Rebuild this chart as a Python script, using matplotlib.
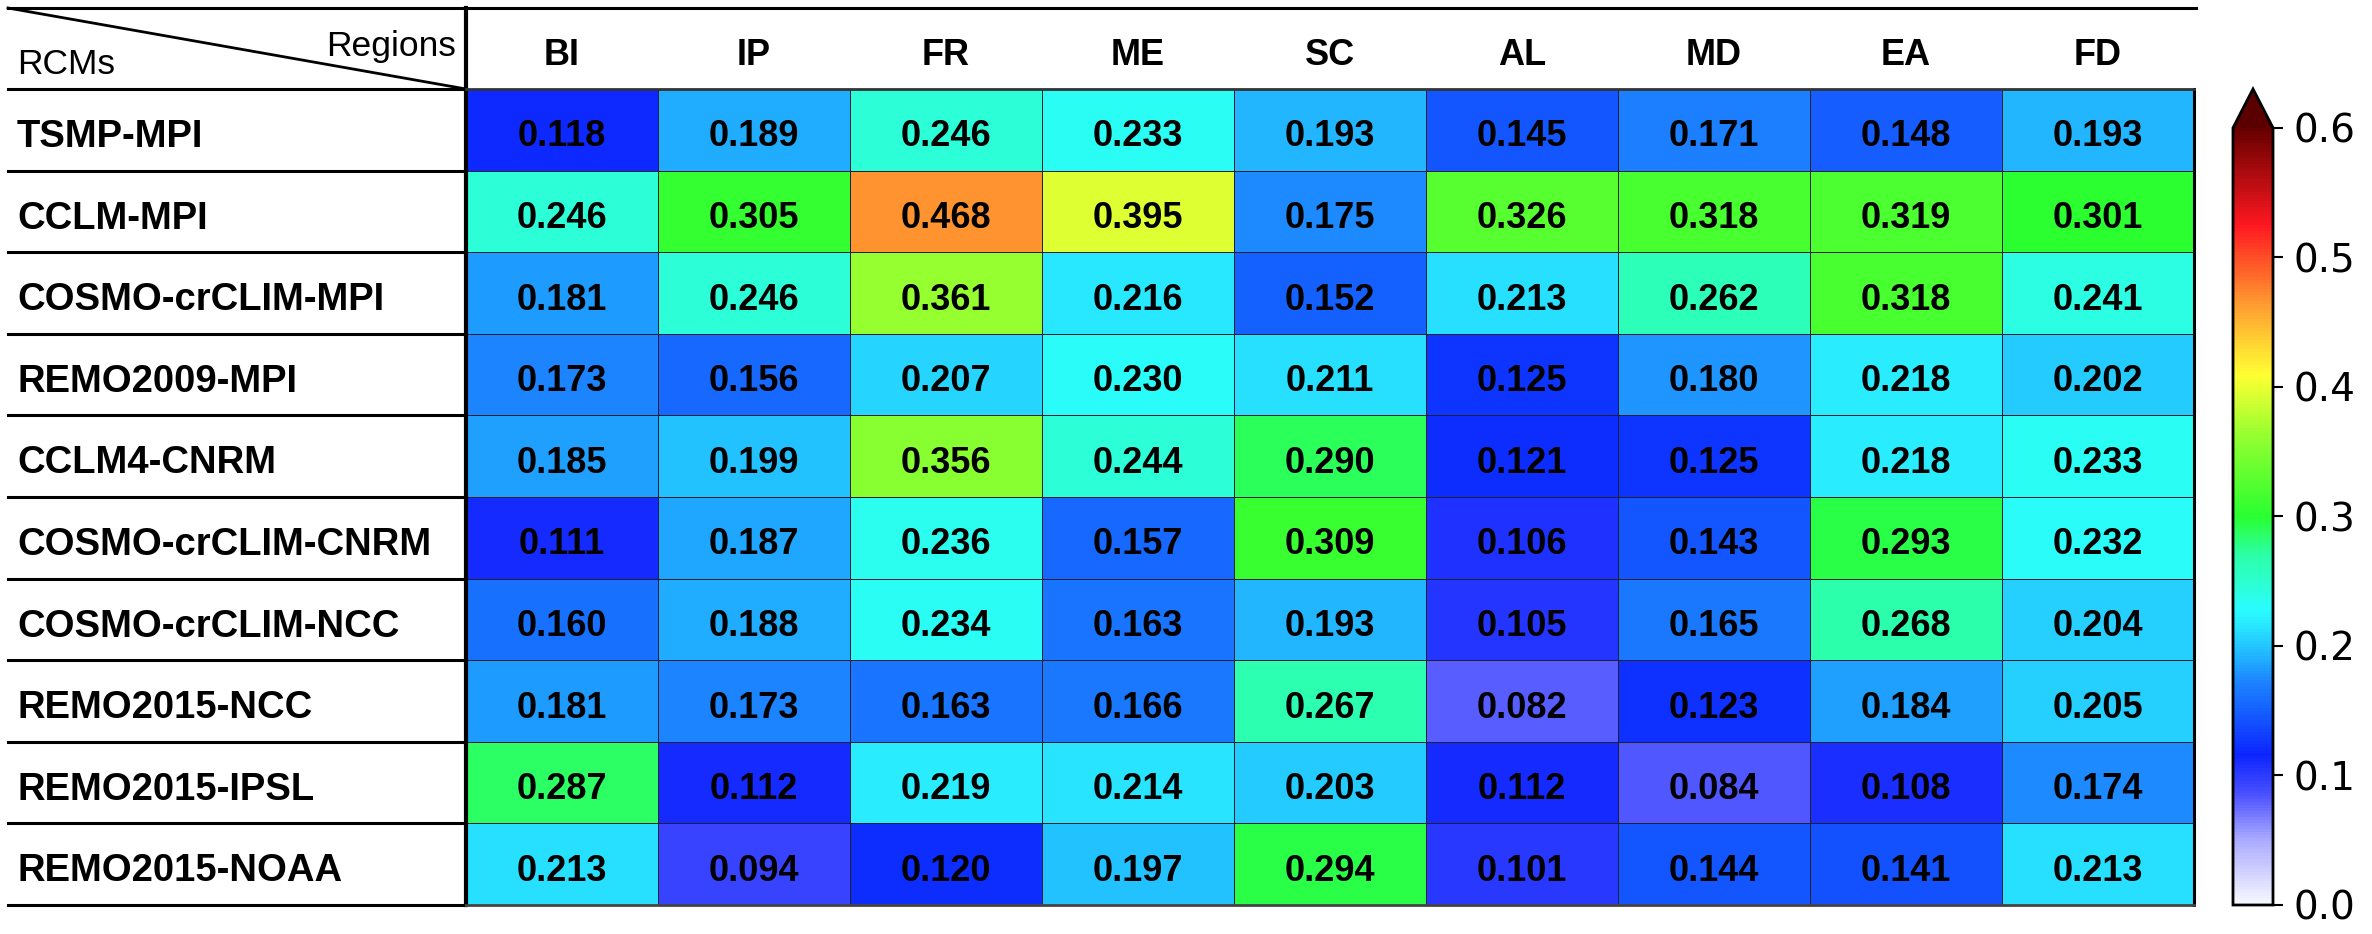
import numpy as np
import matplotlib
matplotlib.use("Agg")
import matplotlib.pyplot as plt
from matplotlib import transforms
from matplotlib.colors import LinearSegmentedColormap

# --- Data ---
rcms = ["TSMP-MPI", "CCLM-MPI", "COSMO-crCLIM-MPI", "REMO2009-MPI", "CCLM4-CNRM",
        "COSMO-crCLIM-CNRM", "COSMO-crCLIM-NCC", "REMO2015-NCC", "REMO2015-IPSL",
        "REMO2015-NOAA"]
regions = ["BI", "IP", "FR", "ME", "SC", "AL", "MD", "EA", "FD"]

tsmp_mpi = [0.118, 0.189, 0.246, 0.233, 0.193, 0.145, 0.171, 0.148, 0.193]
cclm_mpi = [0.246, 0.305, 0.468, 0.395, 0.175, 0.326, 0.318, 0.319, 0.301]
cosmo_mpi = [0.181, 0.246, 0.361, 0.216, 0.152, 0.213, 0.262, 0.318, 0.241]
remo09_mpi = [0.173, 0.156, 0.207, 0.230, 0.211, 0.125, 0.180, 0.218, 0.202]
cclm4_cnrm = [0.185, 0.199, 0.356, 0.244, 0.290, 0.121, 0.125, 0.218, 0.233]
cosmo_cnrm = [0.111, 0.187, 0.236, 0.157, 0.309, 0.106, 0.143, 0.293, 0.232]
cosmo_ncc = [0.160, 0.188, 0.234, 0.163, 0.193, 0.105, 0.165, 0.268, 0.204]
remo15_ncc = [0.181, 0.173, 0.163, 0.166, 0.267, 0.082, 0.123, 0.184, 0.205]
remo15_ipsl = [0.287, 0.112, 0.219, 0.214, 0.203, 0.112, 0.084, 0.108, 0.174]
remo15_noaa = [0.213, 0.094, 0.120, 0.197, 0.294, 0.101, 0.144, 0.141, 0.213]

values = np.array([tsmp_mpi, cclm_mpi, cosmo_mpi, remo09_mpi, cclm4_cnrm,
                   cosmo_cnrm, cosmo_ncc, remo15_ncc, remo15_ipsl, remo15_noaa])
nrows, ncols = values.shape

# --- Colormap (white-blue-green-yellow-red) ---
vmax = 0.6
anchors = [(0.0, "#f8f8ff"), (0.05, "#a8a8ff"), (0.085, "#4a50ff"),
           (0.115, "#0c24ff"), (0.15, "#1560ff"), (0.17, "#1c80ff"),
           (0.19, "#20b0ff"), (0.215, "#28e6ff"), (0.228, "#2afcff"),
           (0.25, "#2cffcc"), (0.27, "#2cffa8"), (0.30, "#2aff30"),
           (0.36, "#90ff30"), (0.41, "#ffff33"), (0.465, "#ff9a30"),
           (0.525, "#ff1820"), (0.6, "#660000")]
cmap = LinearSegmentedColormap.from_list("wbgyr", [(v / vmax, c) for v, c in anchors])
cmap.set_over("#5a0000")

# --- Layout (pixels) ---
W, H = 2372, 934
x_left, x_div, x_right = 8, 466, 2194
y_top, y_head, y_bot = 8, 89, 905

plt.rcParams["font.family"] = ["Liberation Sans", "DejaVu Sans"]

fig = plt.figure(figsize=(W / 100, H / 100), dpi=100)
ax = fig.add_axes([x_div / W, 1 - y_bot / H, (x_right - x_div) / W, (y_bot - y_head) / H])

mesh = ax.pcolormesh(np.arange(ncols + 1), np.arange(nrows + 1), values,
                     cmap=cmap, vmin=0, vmax=vmax, edgecolors="#202030", linewidth=0.6)
ax.set_xlim(0, ncols)
ax.set_ylim(nrows, 0)
ax.set_xticks([])
ax.set_yticks([])

ax_w = x_right - x_div
ax_h = y_bot - y_head
row_px = ax_h / nrows


def cap_px(size):
    # cap height of Liberation Sans in pixels at 100 dpi
    return 0.716 * size * 100 / 72


# cell values
fs_cell = 26
off_cell = (3.6 + cap_px(fs_cell) / 2) / row_px
for i in range(nrows):
    for j in range(ncols):
        ax.text(j + 0.5, i + 0.5 + off_cell, f"{values[i, j]:.3f}", ha="center",
                va="baseline", fontsize=fs_cell, fontweight="bold", color="black")

# spines
ax.spines["left"].set_linewidth(3)
ax.spines["right"].set_linewidth(2.2)
ax.spines["top"].set_linewidth(2)
ax.spines["top"].set_color("#333333")
ax.spines["bottom"].set_linewidth(2)
ax.spines["bottom"].set_color("#444444")

xl = (x_left - x_div) / ax_w
yt = 1 + (y_head - y_top) / ax_h

tr_row = transforms.blended_transform_factory(ax.transAxes, ax.transData)
tr_col = transforms.blended_transform_factory(ax.transData, ax.transAxes)

# row separators in label column
for k in range(nrows + 1):
    ax.plot([xl, 0], [k, k], color="black", lw=2.2, transform=tr_row, clip_on=False)

# row labels
fs_row = 27.5
off_row = (3.5 + cap_px(fs_row) / 2) / row_px
for i, name in enumerate(rcms):
    ax.text((17 - x_div) / ax_w, i + 0.5 + off_row, name, ha="left", va="baseline",
            fontsize=fs_row, fontweight="bold", transform=tr_row)

# header: top line, divider, diagonal
ax.plot([xl, 1.001], [yt, yt], color="black", lw=2.2, transform=ax.transAxes, clip_on=False)
ax.plot([0, 0], [1, yt], color="black", lw=3, transform=ax.transAxes, clip_on=False)
ax.plot([xl, 0], [yt, 1], color="black", lw=2, transform=ax.transAxes, clip_on=False)


def head_y(center_px, size):
    return 1 + (y_head - (center_px + cap_px(size) / 2)) / ax_h


fs_head = 26
for j, reg in enumerate(regions):
    ax.text(j + 0.5, head_y(51.7, fs_head), reg, ha="center", va="baseline",
            fontsize=fs_head, fontweight="bold", transform=tr_col)

fs_corner = 25.5
ax.text((17 - x_div) / ax_w, head_y(61, fs_corner), "RCMs", ha="left", va="baseline",
        fontsize=fs_corner, transform=ax.transAxes)
ax.text((456 - x_div) / ax_w, head_y(43, fs_corner), "Regions", ha="right", va="baseline",
        fontsize=fs_corner, transform=ax.transAxes)

# --- Colorbar ---
cax = fig.add_axes([2233 / W, 1 - y_bot / H, 40 / W, (y_bot - y_head) / H])
ticks = np.arange(0, 0.61, 0.1)
cb = fig.colorbar(mesh, cax=cax, extend="max", ticks=ticks)
cb.ax.set_yticklabels([f"{t:.1f}" for t in ticks], fontfamily="DejaVu Sans")
cb.outline.set_linewidth(2)
cax.tick_params(length=7, width=1.5, labelsize=28, pad=8)

fig.savefig("out.png", dpi=100)
